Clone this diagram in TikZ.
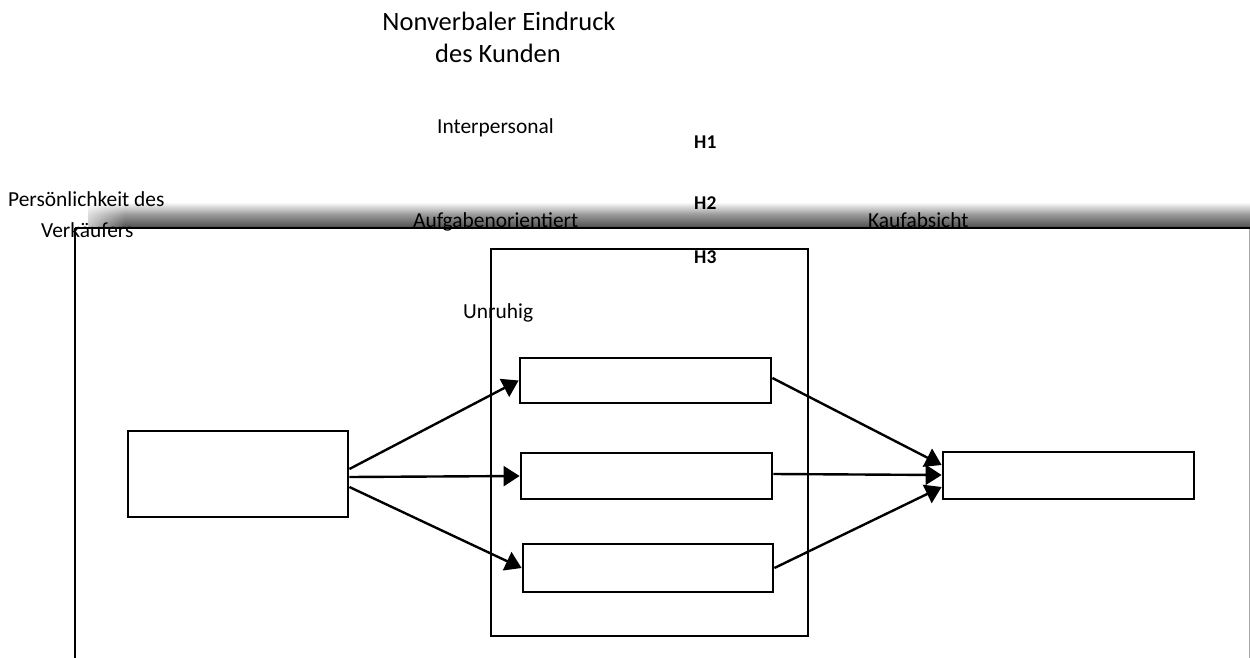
\documentclass[tikz,border=0pt]{standalone}
\usepackage{fontspec}
\setmainfont{Carlito}
\usetikzlibrary{arrows.meta,fadings}
\tikzfading[name=fadeR, left color=transparent!0, right color=transparent!100]
\tikzset{
  box/.style={draw=black, line width=2.8pt, minimum width=#1, inner sep=0pt},
  conn/.style={line width=2.4pt, -{Triangle[length=16pt,width=20pt]}},
  lbl/.style={anchor=base west, inner sep=0pt, font=\fontsize{21.4}{25}\selectfont},
  hyp/.style={anchor=base west, inner sep=0pt, font=\fontsize{19.5}{23}\selectfont\bfseries},
  frame/.style={line width=2pt, black}
}
\begin{document}
\begin{tikzpicture}[x=1pt,y=-1pt]
\useasboundingbox (0,0) rectangle (1250,658);
% shadow above the frame line
\shade[top color=white, bottom color=black!68, middle color=black!40] (88,202) rectangle (1250,227);
\fill[white, path fading=fadeR] (70,198) rectangle (125,228);
% frame
\coordinate (ftl) at (74.5,228);
\coordinate (ftr) at (1250,228);
\coordinate (fbl) at (74.5,658);
\coordinate (rtop) at (1249,229);
\coordinate (rbot) at (1249,658);
\draw[frame] (ftl) -- (ftr);
\draw[frame] (ftl) -- (fbl);
\draw[line width=1pt, black!35] (rtop) -- (rbot);
% texts
\node[anchor=base, inner sep=0pt, font=\fontsize{26.5}{30}\selectfont] (t1) at (499,31) {Nonverbaler Eindruck};
\node[anchor=base, inner sep=0pt, font=\fontsize{26.5}{30}\selectfont] (t2) at (498,63) {des Kunden};
\node[lbl] (ip) at (437,134) {Interpersonal};
\node[hyp] (h1) at (694,149) {H1};
\node[hyp] (h2) at (694,209) {H2};
\node[hyp] (h3) at (694,263) {H3};
\node[lbl] (p1) at (8,206) {Persönlichkeit des};
\node[lbl] (p2) at (41,237) {Verkäufers};
\node[lbl] (af) at (413,227) {Aufgabenorientiert};
\node[lbl] (kf) at (868,227) {Kaufabsicht};
\node[lbl] (un) at (463,318) {Unruhig};
% big rectangle
\node[box=317pt, minimum height=387pt] (G) at (649.5,442.5) {};
% boxes
\node[box=220pt, minimum height=86pt] (L) at (238,474) {};
\node[box=251pt, minimum height=45pt] (T) at (645.5,380.5) {};
\node[box=251pt, minimum height=46pt] (M) at (646.5,476) {};
\node[box=250pt, minimum height=48pt] (B) at (648,568) {};
\node[box=251pt, minimum height=47pt] (R) at (1068.5,475.5) {};
% connectors
\draw[conn] ([yshift=5pt]L.east) -- (T.west);
\draw[conn] ([yshift=-3pt]L.east) -- (M.west);
\draw[conn] ([yshift=-13pt]L.east) -- (B.west);
\draw[conn] ([yshift=2.5pt]T.east) -- ([yshift=10.5pt]R.west);
\draw[conn] ([yshift=2pt]M.east) -- ([yshift=0.5pt]R.west);
\draw[conn] (B.east) -- ([yshift=-11.5pt]R.west);
\end{tikzpicture}
\end{document}
